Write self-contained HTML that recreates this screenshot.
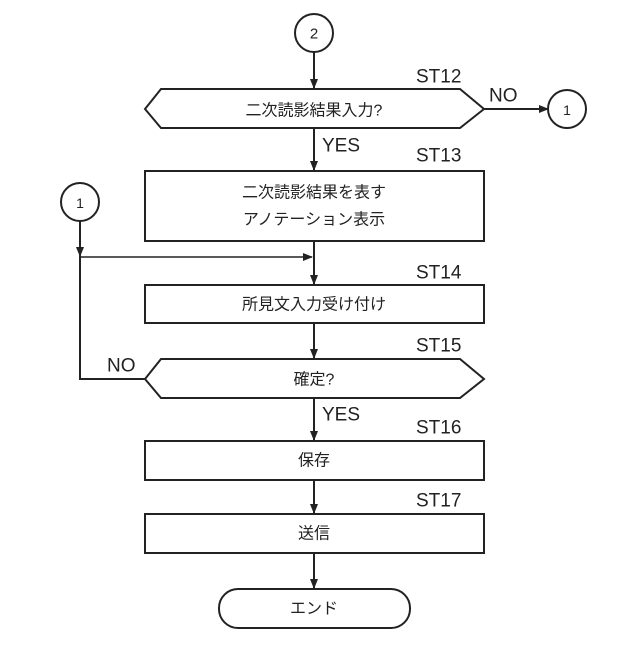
<!DOCTYPE html>
<html><head><meta charset="utf-8"><style>html,body{margin:0;padding:0;background:#fff}</style></head>
<body>
<svg width="640" height="640" viewBox="0 0 640 640" xmlns="http://www.w3.org/2000/svg">
<defs><marker id="a" markerWidth="10" markerHeight="10" refX="9" refY="5" orient="auto" markerUnits="userSpaceOnUse"><path d="M0,1 L10,5 L0,9 Z" fill="#222"/></marker></defs>
<g fill="none" stroke="#222" stroke-width="2">
<circle cx="314" cy="33" r="19"/>
<line x1="314" y1="52" x2="314" y2="88" marker-end="url(#a)"/>
<polygon points="145,109 161,89 460,89 484,109 460,128 161,128"/>
<line x1="484" y1="109" x2="548" y2="109" marker-end="url(#a)"/>
<circle cx="567" cy="109" r="19"/>
<line x1="314" y1="128" x2="314" y2="170" marker-end="url(#a)"/>
<rect x="145" y="171" width="339" height="70"/>
<circle cx="80" cy="202" r="19"/>
<line x1="80" y1="221" x2="80" y2="256" marker-end="url(#a)"/>
<line x1="80" y1="257" x2="312" y2="257" stroke-width="1.5" marker-end="url(#a)"/>
<line x1="314" y1="241" x2="314" y2="284" marker-end="url(#a)"/>
<rect x="145" y="285" width="339" height="38"/>
<line x1="314" y1="323" x2="314" y2="358" marker-end="url(#a)"/>
<polygon points="145,379 161,359 460,359 484,379 460,398 161,398"/>
<polyline points="145,379 80,379 80,256"/>
<line x1="314" y1="398" x2="314" y2="440" marker-end="url(#a)"/>
<rect x="145" y="441" width="339" height="39"/>
<line x1="314" y1="480" x2="314" y2="513" marker-end="url(#a)"/>
<rect x="145" y="514" width="339" height="39"/>
<line x1="314" y1="553" x2="314" y2="588" marker-end="url(#a)"/>
<rect x="219" y="589" width="191" height="39" rx="19"/>
</g>
<g font-family="Liberation Sans, Noto Sans CJK JP, sans-serif" fill="#222" font-size="16" text-anchor="middle" dominant-baseline="central">
<text x="314" y="34" font-size="15">2</text>
<text x="567" y="110" font-size="14">1</text>
<text x="80" y="203" font-size="14">1</text>
<text x="314" y="111">二次読影結果入力?</text>
<text x="314" y="193">二次読影結果を表す</text>
<text x="314" y="220">アノテーション表示</text>
<text x="314" y="305">所見文入力受け付け</text>
<text x="314" y="380">確定?</text>
<text x="314" y="461">保存</text>
<text x="314" y="534">送信</text>
<text x="314" y="609">エンド</text>
<g font-size="19" text-anchor="start">
<text x="416" y="77">ST12</text>
<text x="416" y="156">ST13</text>
<text x="416" y="273">ST14</text>
<text x="416" y="346">ST15</text>
<text x="416" y="428">ST16</text>
<text x="416" y="501">ST17</text>
<text x="489" y="96">NO</text>
<text x="107" y="366">NO</text>
<text x="322" y="146">YES</text>
<text x="322" y="415">YES</text>
</g>
</g>
</svg>
</body></html>
